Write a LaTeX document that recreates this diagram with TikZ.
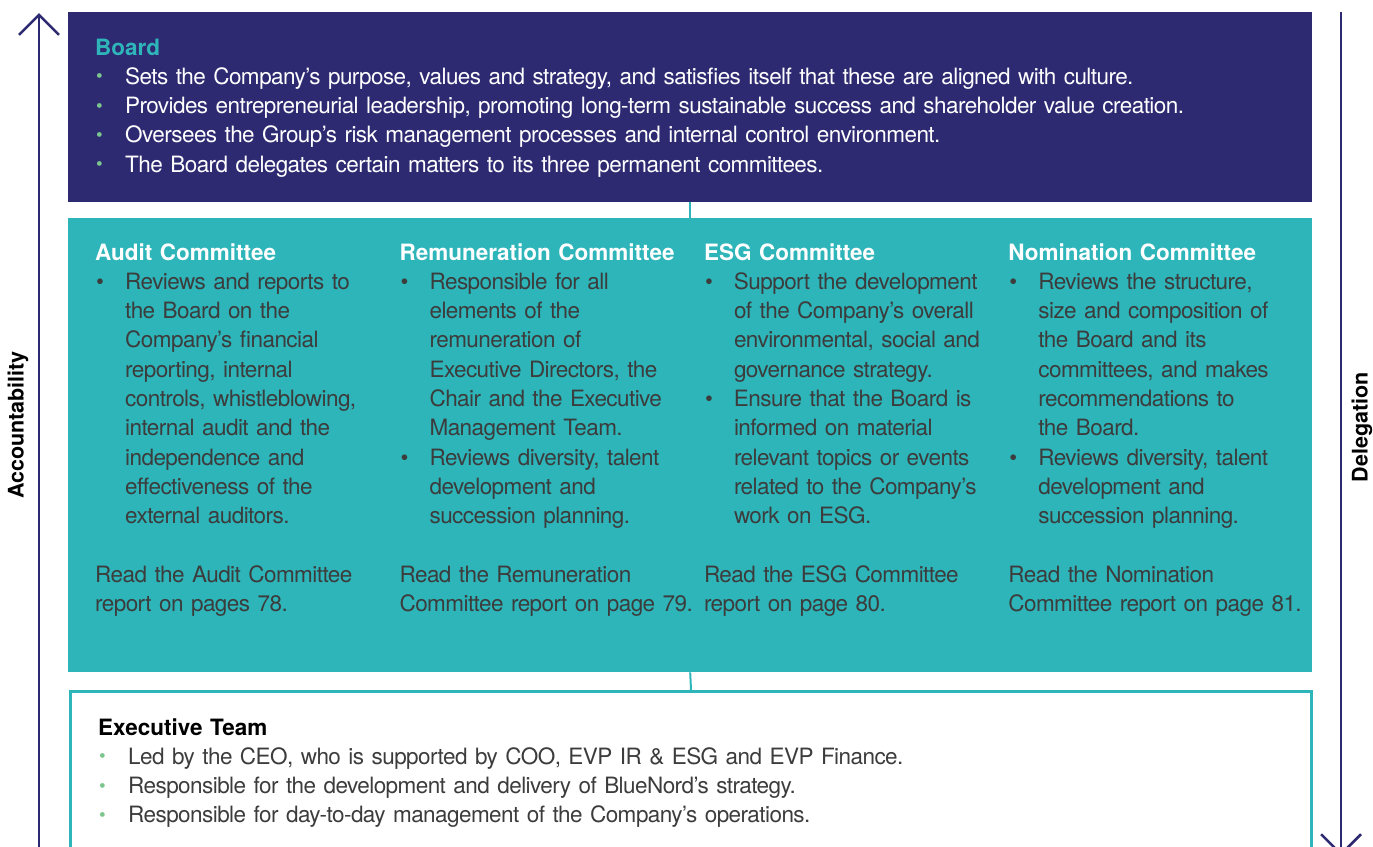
\documentclass[tikz,border=0pt]{standalone}
\usepackage{fontspec}
\setmainfont{TeX Gyre Heros}[LetterSpace=-2.5,BoldFeatures={LetterSpace=0}]
\usetikzlibrary{arrows.meta,positioning}
\definecolor{navy}{HTML}{2E2A72}
\definecolor{teal}{HTML}{2DB5BA}
\definecolor{leaf}{HTML}{7AC68D}
\definecolor{ink}{HTML}{3C3C3C}
\newcommand{\itm}{\makebox[30pt][l]{\hspace*{1pt}\textbullet}}
\newcommand{\gitm}{\makebox[30pt][l]{\hspace*{1pt}\raisebox{1.6pt}{\fontsize{19}{19}\selectfont\textcolor{leaf}{\textbullet}}}}
\newcommand{\ind}{\hspace*{30pt}}
\newcommand{\tightsp}{\fontdimen2\font=5pt\relax}
\begin{document}
\begin{tikzpicture}[x=1pt,y=-1pt,>={Straight Barb[length=20pt,width=40pt]},
 box/.style={anchor=north west,inner sep=0pt,minimum width=1244pt},
 body/.style={inner sep=0pt,anchor=base west,align=left,text width=1200pt,
  font=\fontsize{22.5}{29.3}\selectfont\tightsp},
 col/.style={body,text width=300pt,text=ink},
 side/.style={rotate=90,inner sep=0pt,font=\fontsize{21.5}{24}\selectfont\bfseries},
 a/.style={->,line width=2.5pt,color=navy},
 c/.style={line width=2pt,color=teal}]
 \useasboundingbox (0,0) rectangle (1373,846);
 \node[box,fill=navy,minimum height=190pt] (board) at (68,12) {};
 \node[box,fill=teal,minimum height=454pt] (cmte) at (68,218) {};
 \node[box,draw=teal,line width=2.5pt,minimum width=1241pt,minimum height=200pt] (exec) at (69.25,690) {};
 \draw[c] (board.south) -- (cmte.north);
 \draw[c] (cmte.south) -- (exec.north);
 \coordinate (accbot) at (39,870);
 \coordinate (acctop) at (39,13);
 \coordinate (deltop) at (1341,12);
 \coordinate (delbot) at (1341,856);
 \draw[a] (accbot) -- (acctop);
 \draw[a] (deltop) -- (delbot);
 \node[side] (acc) at (18,425) {Accountability};
 \node[side] (del) at (1362,427) {Delegation};
 \node[body,text=white] (boardtxt) at (95,55) {{\bfseries\color{teal}Board}\\
  \gitm Sets the Company’s purpose, values and strategy, and satisfies itself that these are aligned with culture.\\
  \gitm Provides entrepreneurial leadership, promoting long-term sustainable success and shareholder value creation.\\
  \gitm Oversees the Group’s risk management processes and internal control environment.\\
  \gitm The Board delegates certain matters to its three permanent committees.};
 \node[col] (audit) at (95,260) {{\bfseries\color{white}Audit Committee}\\
  \itm Reviews and reports to\\ \ind the Board on the\\ \ind Company’s financial\\
  \ind reporting, internal\\ \ind controls, whistleblowing,\\ \ind internal audit and the\\
  \ind independence and\\ \ind effectiveness of the\\ \ind external auditors.\\[29.3pt]
  Read the Audit Committee\\ report on pages 78.};
 \node[col,base right=4pt of audit] (remun) {{\bfseries\color{white}Remuneration Committee}\\
  \itm Responsible for all\\ \ind elements of the\\ \ind remuneration of\\
  \ind Executive Directors, the\\ \ind Chair and the Executive\\ \ind Management Team.\\
  \itm Reviews diversity, talent\\ \ind development and\\ \ind succession planning.\\[29.3pt]
  Read the Remuneration\\ Committee report on page 79.};
 \node[col,base right=4pt of remun] (esg) {{\bfseries\color{white}ESG Committee}\\
  \itm Support the development\\ \ind of the Company’s overall\\ \ind environmental, social and\\
  \ind governance strategy.\\ \itm Ensure that the Board is\\ \ind informed on material\\
  \ind relevant topics or events\\ \ind related to the Company’s\\ \ind work on ESG.\\[29.3pt]
  Read the ESG Committee\\ report on page 80.};
 \node[col,base right=4pt of esg] (nomin) {{\bfseries\color{white}Nomination Committee}\\
  \itm Reviews the structure,\\ \ind size and composition of\\ \ind the Board and its\\
  \ind committees, and makes\\ \ind recommendations to\\ \ind the Board.\\
  \itm Reviews diversity, talent\\ \ind development and\\ \ind succession planning.\\[29.3pt]
  Read the Nomination\\ Committee report on page 81.};
 \node[body,text=ink] (exectxt) at (98,735) {{\bfseries\color{black}Executive Team}\\
  \gitm Led by the CEO, who is supported by COO, EVP IR \& ESG and EVP Finance.\\
  \gitm Responsible for the development and delivery of BlueNord’s strategy.\\
  \gitm Responsible for day-to-day management of the Company’s operations.};
\end{tikzpicture}
\end{document}
